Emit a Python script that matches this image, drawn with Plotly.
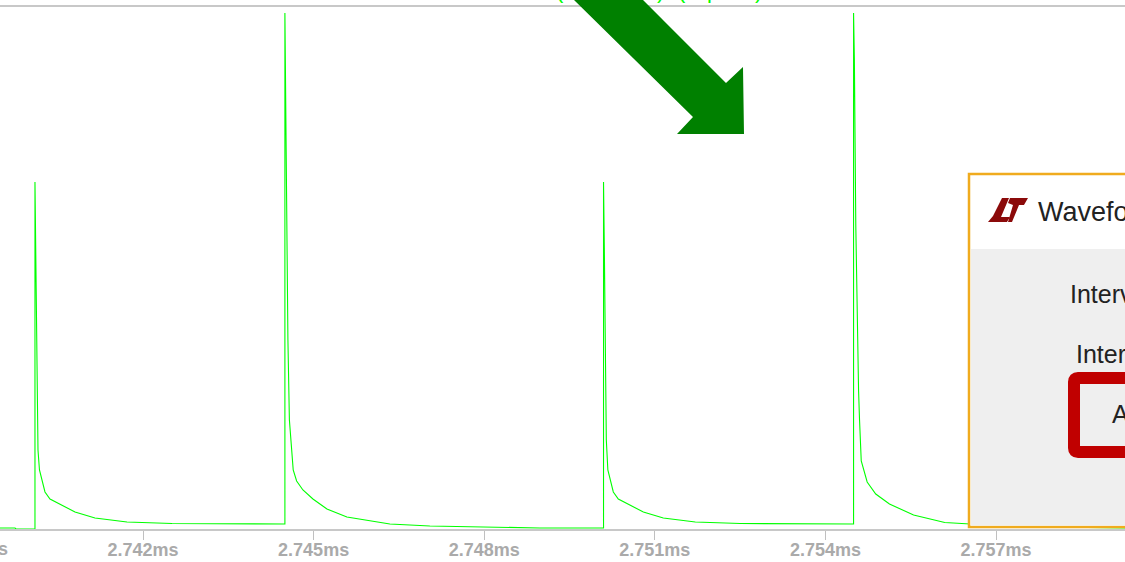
import plotly.graph_objects as go

# Time in ms, signal height in arbitrary units (no y scale is shown in the source)
time_ms = [
    2.739485, 2.739749, 2.739766, 2.740100, 2.740100, 2.740118, 2.740135, 2.740153, 2.740179,
    2.740218, 2.740276, 2.740364, 2.740505, 2.740804, 2.741155, 2.741718, 2.742509, 2.743528,
    2.744495, 2.744495, 2.744513, 2.744530, 2.744548, 2.744574, 2.744596, 2.744641, 2.744701,
    2.744812, 2.744988, 2.745234, 2.745585, 2.745990, 2.746341, 2.747044, 2.747923, 2.748978,
    2.750098, 2.750098, 2.750112, 2.750130, 2.750147, 2.750174, 2.750218, 2.750270, 2.750358,
    2.750499, 2.750798, 2.751149, 2.751712, 2.752503, 2.753522, 2.754495, 2.754495, 2.754509,
    2.754534, 2.754558, 2.754583, 2.754600, 2.754618, 2.754630, 2.754734, 2.754885, 2.755126,
    2.755550, 2.756098, 2.756548, 2.757944, 2.759268,
]
signal = [
    1, 1, 0, 0, 347, 249, 129, 79, 59,
    49, 37, 30, 26, 17, 11, 7, 5.5, 5,
    5, 516, 404, 269, 189, 109, 89, 59, 48,
    39, 30, 20, 12, 8, 5, 3, 2, 1,
    1, 347, 281, 139, 89, 59, 49, 37, 30,
    26, 17, 11, 7, 5.5, 5, 5, 516, 470,
    304, 209, 138, 109, 88, 68, 47, 35, 25,
    14, 6.5, 5, 2, 1,
]

tick_vals = [2.742, 2.745, 2.748, 2.751, 2.754, 2.757]
tick_text = ["2.742ms", "2.745ms", "2.748ms", "2.751ms", "2.754ms", "2.757ms"]
clipped_tick_text = "2.739ms"
panel_title = "Waveform"
panel_rows = ["Interval", "Interval", "A"]

W, H = 1125, 562
L, T, B = 0, 7, 529


def px(x):
    return (x - L) / (W - L)


def py(y):
    return (B - y) / (B - T)


def path(points):
    return "M " + " L ".join(f"{px(x):.5f},{py(y):.5f}" for x, y in points) + " Z"


def solid(points, color):
    return dict(type="path", xref="paper", yref="paper", path=path(points),
                fillcolor=color, line=dict(width=0), layer="above")


def box(x0, y0, x1, y1, fill, line=None, width=0):
    return dict(type="rect", xref="paper", yref="paper", x0=px(x0), x1=px(x1), y0=py(y0), y1=py(y1),
                fillcolor=fill, line=dict(color=line, width=width), layer="above")


shapes = [
    solid([(573, -1), (642, -1), (726, 83), (743, 67), (744, 134), (677, 134), (693, 117)], "#008000"),
    box(969, 174, 1135, 527, "#ffffff", "#f0ab1e", 2.5),
    box(971, 249, 1135, 525.5, "#efefef"),
    solid([(1002, 198), (1009, 198), (1001, 217), (1010, 217), (1007, 222), (988, 222), (993, 216)], "#8b0a0a"),
    solid([(1010, 198), (1028, 198), (1024, 205), (1019, 205), (1012, 222), (1008, 222), (1013, 205), (1008, 203)], "#8b0a0a"),
    dict(type="path", xref="paper", yref="paper",
         path=f"M {px(1140):.5f},{py(378):.5f} L {px(1078):.5f},{py(378):.5f} "
              f"Q {px(1074):.5f},{py(378):.5f} {px(1074):.5f},{py(382):.5f} "
              f"L {px(1074):.5f},{py(448):.5f} Q {px(1074):.5f},{py(452):.5f} {px(1078):.5f},{py(452):.5f} "
              f"L {px(1140):.5f},{py(452):.5f}",
         line=dict(color="#c00000", width=12), layer="above"),
]


def label(x, y, text, size, color="#222222", anchor="left", vanchor="middle", weight=None, family="Liberation Sans"):
    return dict(xref="paper", yref="paper", x=px(x), y=py(y), text=text, showarrow=False,
                xanchor=anchor, yanchor=vanchor, align="left", borderpad=0, borderwidth=0,
                font=dict(family=family, size=size, color=color, weight=weight))


annotations = [
    label(-28, 549, clipped_tick_text, 18, "#aaaaaa", "center", weight=700),
    label(1038, 212, panel_title, 27),
    label(1070, 294, panel_rows[0], 25),
    label(1076, 354, panel_rows[1], 25),
    label(1112, 414, panel_rows[2], 25),
]
for x, ch in [(560, "("), (660, ")"), (682, "("), (713, "p"), (758, ")")]:
    annotations.append(label(x, 3, ch, 22, "#00ff00", "center", "bottom"))

fig = go.Figure(go.Scatter(x=time_ms, y=signal, mode="lines", line=dict(color="#00ff00", width=1.1),
                           hoverinfo="skip", showlegend=False))
fig.update_layout(
    width=W, height=H, margin=dict(l=0, r=0, t=T, b=H - B), paper_bgcolor="#ffffff", plot_bgcolor="#ffffff",
    shapes=shapes, annotations=annotations,
    xaxis=dict(range=[2.739485, 2.759268], tickmode="array", tickvals=tick_vals, ticktext=tick_text,
               ticks="outside", ticklen=9, tickcolor="#c0c0c0", tickwidth=1, showgrid=False, zeroline=False,
               showline=True, linecolor="#c8c8c8", linewidth=1.5, mirror=True, ticklabelstandoff=-5,
               tickfont=dict(family="Liberation Sans", size=18, color="#aaaaaa", weight=700)),
    yaxis=dict(range=[0, 522], visible=False),
)
fig.write_html("out.html", config=dict(displayModeBar=False),
               post_script="document.body.style.margin='0';document.body.style.overflow='hidden';")
